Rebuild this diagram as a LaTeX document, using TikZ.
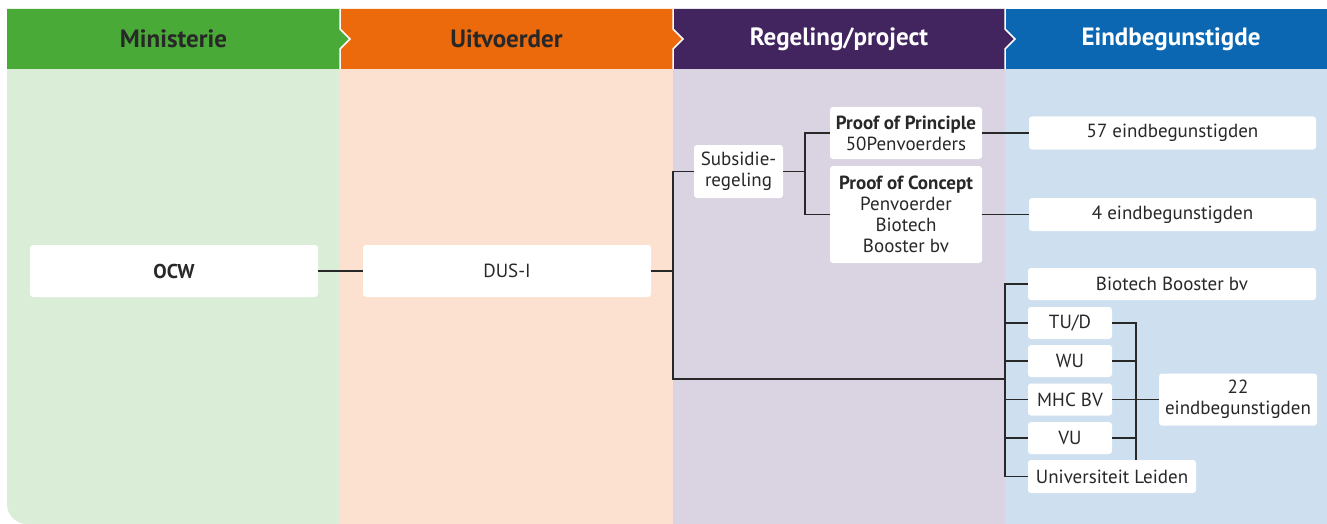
\documentclass[tikz,border=0pt]{standalone}
\usepackage{fontspec}
\setmainfont{PT Sans}
\definecolor{hdgreen}{RGB}{74,170,55}
\definecolor{hdorange}{RGB}{236,106,11}
\definecolor{hdpurple}{RGB}{66,36,94}
\definecolor{hdblue}{RGB}{11,103,178}
\definecolor{bggreen}{RGB}{218,237,215}
\definecolor{bgorange}{RGB}{252,225,208}
\definecolor{bgpurple}{RGB}{218,211,226}
\definecolor{bgblue}{RGB}{206,224,240}
\definecolor{ink}{RGB}{40,40,40}
\begin{document}
\begin{tikzpicture}[x=1pt, y=-1pt]
  \tikzstyle{box}=[fill=white, rounded corners=3pt, align=center, inner sep=0pt,
                   text=ink, font=\fontsize{19}{21}\selectfont]
  \tikzstyle{hdtext}=[font=\fontsize{25}{28}\selectfont\bfseries]
  \tikzstyle{conn}=[draw=ink, line width=1.1pt]
  \useasboundingbox (0,0) rectangle (1327,524);

  % Achtergrond kolommen
  \begin{scope}
    \clip[rounded corners=20pt] (7,20) rectangle (1400,524);
    \fill[bggreen] (7,69) rectangle (340,524);
    \fill[bgorange] (340,69) rectangle (673,524);
    \fill[bgpurple] (673,69) rectangle (1005,524);
    \fill[bgblue] (1005,69) rectangle (1327,524);
  \end{scope}

  % Kopbalk met pijlpunten
  \fill[hdblue] (1005,9) rectangle (1327,69);
  \fill[hdpurple] (673,9) -- (1005,9) -- (1005,29) -- (1015,39) -- (1005,49) -- (1005,69) -- (673,69) -- cycle;
  \fill[hdorange] (340,9) -- (673,9) -- (673,29) -- (683,39) -- (673,49) -- (673,69) -- (340,69) -- cycle;
  \fill[hdgreen] (7,9) -- (340,9) -- (340,29) -- (350,39) -- (340,49) -- (340,69) -- (7,69) -- cycle;
  \foreach \x in {340,673,1005}
    \draw[white, line width=1.5pt] (\x,9) -- (\x,29) -- (\x+10,39) -- (\x,49) -- (\x,69);

  \node[hdtext, text=ink] (hd1) at (173.5,39) {Ministerie};
  \node[hdtext, text=ink] (hd2) at (506.5,39) {Uitvoerder};
  \node[hdtext, text=white] (hd3) at (839,39) {Regeling/project};
  \node[hdtext, text=white] (hd4) at (1171,39) {Eindbegunstigde};

  % Knopen
  \node[box, minimum width=288, minimum height=52, font=\fontsize{20}{22}\selectfont\bfseries] (ocw) at (174,271) {OCW};
  \node[box, minimum width=288, minimum height=52] (dusi) at (507,271) {DUS-I};
  \node[box, minimum width=89, minimum height=53] (subs) at (738.5,171.5) {Subsidie-\\regeling};
  \node[box, minimum width=152, minimum height=52] (pop) at (906,133) {\textbf{Proof of Principle}\\50Penvoerders};
  \node[box, minimum width=152, minimum height=97] (poc) at (906,214.5) {\textbf{Proof of Concept}\\Penvoerder\\Biotech\\Booster bv};
  \node[box, minimum width=287, minimum height=33] (n57) at (1172.5,133) {57 eindbegunstigden};
  \node[box, minimum width=287, minimum height=33] (n4) at (1172.5,214.5) {4 eindbegunstigden};
  \node[box, minimum width=288, minimum height=32] (bbbv) at (1172,284) {Biotech Booster bv};
  \node[box, minimum width=84, minimum height=32] (tud) at (1070,323) {TU/D};
  \node[box, minimum width=84, minimum height=32] (wu) at (1070,361) {WU};
  \node[box, minimum width=84, minimum height=32] (mhc) at (1070,399.5) {MHC BV};
  \node[box, minimum width=84, minimum height=32] (vu) at (1070,438) {VU};
  \node[box, minimum width=168, minimum height=33] (leiden) at (1112,476.5) {Universiteit Leiden};
  \node[box, minimum width=158, minimum height=52] (n22) at (1238,399.5) {22\\eindbegunstigden};

  % Verbindingslijnen
  \coordinate (j1) at (673,271);
  \coordinate (b1) at (673,379);
  \coordinate (b2) at (1005,379);
  \coordinate (j2) at (805,171.5);
  \coordinate (j3) at (1136,323);

  \draw[conn] (ocw.east) -- (dusi.west);
  \draw[conn] (dusi.east) -- (j1);
  \draw[conn] (subs.west) -| (b1) -- (b2);
  \draw[conn] (subs.east) -- (j2);
  \draw[conn] (pop.west) -| (j2) |- (poc.west);
  \draw[conn] (pop.east) -- (n57.west);
  \draw[conn] (poc.east) -- (n4.west);
  \draw[conn] (bbbv.west) -| (b2) |- (leiden.west);
  \foreach \n in {tud,wu,mhc,vu}
    \draw[conn] (\n.west) -- (\n.west -| b2);
  \draw[conn] (tud.east) -- (j3) -- (j3 |- leiden.north);
  \foreach \n in {wu,vu}
    \draw[conn] (\n.east) -- (\n.east -| j3);
  \draw[conn] (mhc.east) -- (n22.west);
\end{tikzpicture}
\end{document}
